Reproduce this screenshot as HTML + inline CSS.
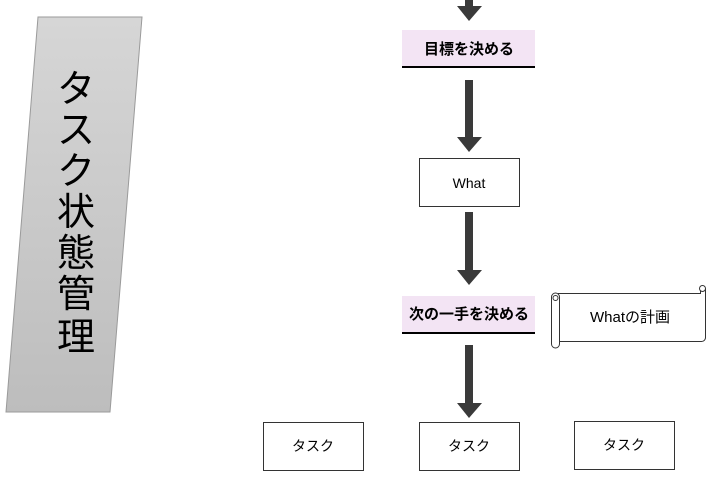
<!DOCTYPE html>
<html><head><meta charset="utf-8"><style>
html,body{margin:0;padding:0;background:#fff;width:728px;height:477px;overflow:hidden}
svg{display:block}
text{font-family:"Liberation Sans","Noto Sans CJK JP",sans-serif}
</style></head><body>
<svg width="728" height="477" viewBox="0 0 728 477" xmlns="http://www.w3.org/2000/svg">
<defs>
<linearGradient id="g" x1="0" y1="0" x2="0" y2="1">
<stop offset="0" stop-color="#d6d6d6"/><stop offset="1" stop-color="#bdbdbd"/>
</linearGradient>
</defs>
<polygon points="38,17 142,17 110,412 6,412" fill="url(#g)" stroke="#9a9a9a" stroke-width="1"/>
<g font-size="38" fill="#000" text-anchor="middle">
<text x="76" y="102">タ</text>
<text x="76" y="143">ス</text>
<text x="76" y="184">ク</text>
<text x="76" y="225">状</text>
<text x="76" y="266">態</text>
<text x="76" y="307">管</text>
<text x="76" y="350">理</text>
</g>
<g fill="#3a3a3a">
<rect x="465" y="0" width="8" height="7"/><polygon points="457,6 482,6 469,21"/>
<rect x="465" y="80" width="8" height="58"/><polygon points="457,137 482,137 469,152"/>
<rect x="465" y="212" width="8" height="59"/><polygon points="457,270 482,270 469,285"/>
<rect x="465" y="345" width="8" height="59"/><polygon points="457,403 482,403 469,418"/>
</g>
<rect x="402" y="30" width="133" height="37" fill="#f3e4f4"/>
<rect x="402" y="66" width="133" height="2" fill="#000"/>
<text x="469" y="54" font-size="15" font-weight="bold" text-anchor="middle">目標を決める</text>
<rect x="402" y="296" width="133" height="37" fill="#f3e4f4"/>
<rect x="402" y="332" width="133" height="2" fill="#000"/>
<text x="469" y="319" font-size="15" font-weight="bold" text-anchor="middle">次の一手を決める</text>
<rect x="419.5" y="158.5" width="100" height="48" fill="#fff" stroke="#333"/>
<text x="469" y="188" font-size="14" text-anchor="middle">What</text>
<g fill="#fff" stroke="#333" stroke-width="1">
<rect x="263.5" y="422.5" width="100" height="48"/>
<rect x="419.5" y="422.5" width="100" height="48"/>
<rect x="574.5" y="421.5" width="100" height="48"/>
</g>
<g font-size="14" text-anchor="middle">
<text x="313" y="451">タスク</text>
<text x="469" y="451">タスク</text>
<text x="624" y="450">タスク</text>
</g>
<g fill="#fff" stroke="#333" stroke-width="1">
<path d="M558.5,293.5 L700.5,293.5 L700.5,289 A4,4 0 0 1 705.5,289 L705.5,337 A4,4 0 0 1 701.5,341.5 L558.5,341.5 Z"/>
<path d="M551.5,297 A4,4 0 0 1 559.5,297 L559.5,344 A4,4 0 0 1 551.5,344 Z"/>
<circle cx="555.5" cy="298" r="2.5"/>
<circle cx="702.5" cy="288.5" r="3"/>
</g>
<text x="630" y="322" font-size="15" text-anchor="middle">Whatの計画</text>
</svg>
</body></html>
